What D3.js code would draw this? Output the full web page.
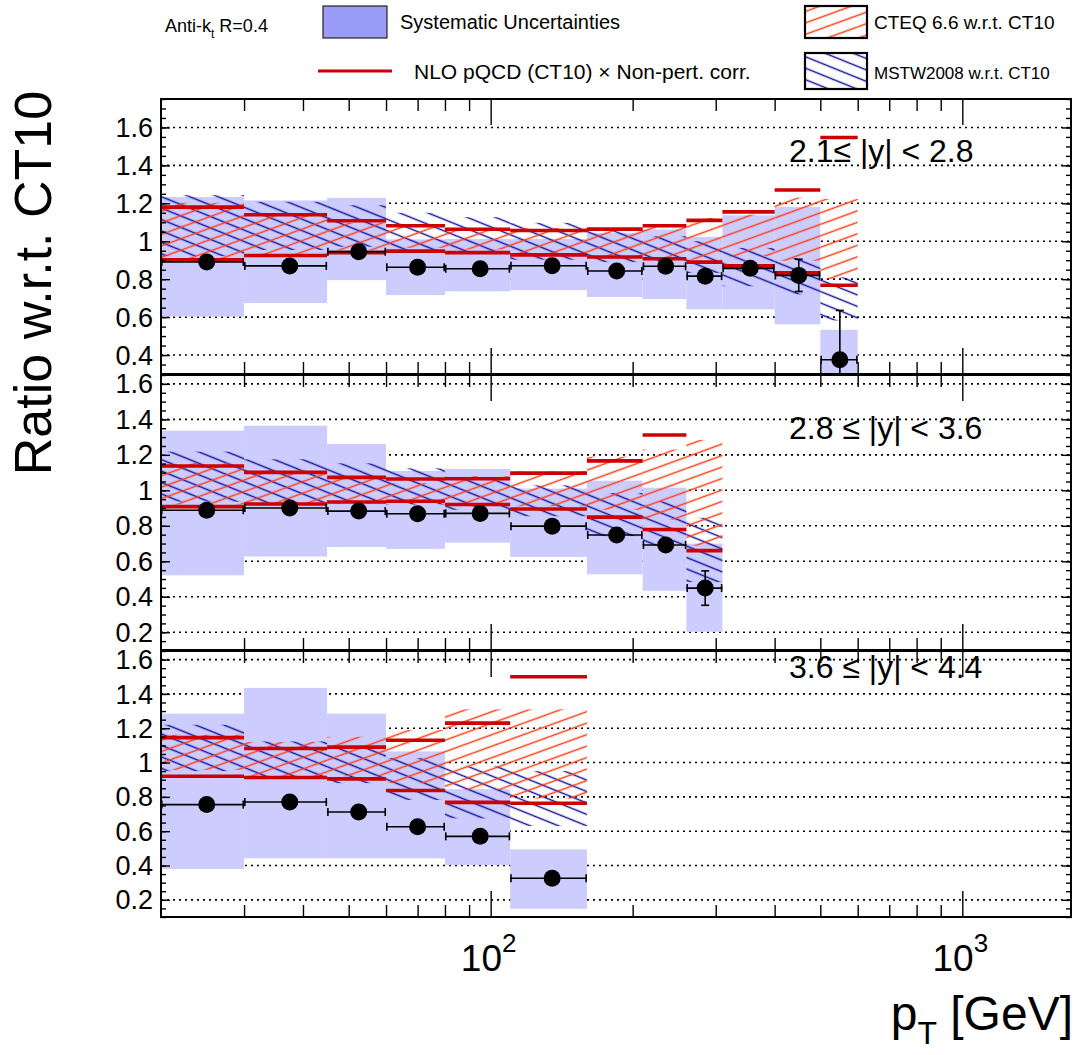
<!DOCTYPE html>
<html><head><meta charset="utf-8">
<script src="https://cdn.jsdelivr.net/npm/d3@7"></script>
<style>
body{margin:0;background:#fff}
svg{display:block}
text{font-family:"Liberation Sans",Arial,Helvetica,sans-serif;fill:#000}
</style>
</head><body>
<svg id="c" width="1079" height="1055"></svg>
<script>
// ---------------- DATA ----------------
const binEdges = [20, 30, 45, 60, 80, 110, 160, 210, 260, 310, 400, 500, 600];
const panelLabels = ["2.1\u2264 |y| < 2.8", "2.8 \u2264 |y| < 3.6", "3.6 \u2264 |y| < 4.4"];
const yTicks1 = [0.4, 0.6, 0.8, 1, 1.2, 1.4, 1.6];
const yTicks2 = [0.2, 0.4, 0.6, 0.8, 1, 1.2, 1.4, 1.6];
const yTicks3 = [0.2, 0.4, 0.6, 0.8, 1, 1.2, 1.4, 1.6];
const xMajorTicks = [100, 1000];
const xMajorLabels = ["2", "3"];
const xMinorTicks = [30, 40, 50, 60, 70, 80, 90, 200, 300, 400, 500, 600, 700, 800, 900];

// 2.1 <= |y| < 2.8
const data1   = [0.891, 0.870, 0.945, 0.863, 0.855, 0.871, 0.843, 0.868, 0.816, 0.857, 0.820, 0.375];
const stat1   = [0.004, 0.004, 0.005, 0.006, 0.007, 0.008, 0.010, 0.012, 0.015, 0.020, 0.085, 0.260];
const sysLo1  = [0.603, 0.674, 0.795, 0.716, 0.736, 0.742, 0.706, 0.695, 0.641, 0.641, 0.562, 0.100];
const sysHi1  = [1.233, 1.215, 1.229, 1.010, 1.012, 1.012, 1.044, 1.062, 1.023, 1.137, 1.181, 0.533];
const ct10Lo1 = [0.902, 0.925, 0.940, 0.948, 0.940, 0.928, 0.917, 0.908, 0.890, 0.870, 0.833, 0.768];
const ct10Hi1 = [1.180, 1.140, 1.108, 1.082, 1.063, 1.057, 1.064, 1.082, 1.110, 1.155, 1.270, 1.547];
const cteqLo1 = [0.906, 0.927, 0.954, 0.965, 0.956, 0.930, 0.920, 0.903, 0.903, 0.920, 0.897, 0.800];
const cteqHi1 = [1.203, 1.142, 1.097, 1.077, 1.060, 1.070, 1.060, 1.075, 1.123, 1.140, 1.230, 1.223];
const mstwLo1 = [0.922, 0.954, 0.971, 0.945, 0.938, 0.903, 0.890, 0.877, 0.833, 0.763, 0.720, 0.582];
const mstwHi1 = [1.243, 1.208, 1.190, 1.150, 1.127, 1.097, 1.060, 1.026, 1.000, 0.965, 0.912, 0.809];

// 2.8 <= |y| < 3.6
const data2   = [0.888, 0.900, 0.883, 0.868, 0.870, 0.798, 0.748, 0.692, 0.449];
const stat2   = [0.005, 0.006, 0.007, 0.008, 0.010, 0.012, 0.015, 0.020, 0.097];
const sysLo2  = [0.521, 0.627, 0.681, 0.670, 0.705, 0.625, 0.527, 0.434, 0.203];
const sysHi2  = [1.336, 1.364, 1.261, 1.109, 1.121, 1.010, 1.054, 1.015, 0.700];
const ct10Lo2 = [0.908, 0.923, 0.934, 0.938, 0.920, 0.895, 0.849, 0.779, 0.660];
const ct10Hi2 = [1.137, 1.101, 1.073, 1.064, 1.065, 1.097, 1.166, 1.312, null];
const cteqLo2 = [0.920, 0.925, 0.925, 0.930, 0.920, 0.910, 0.890, 0.835, 0.688];
const cteqHi2 = [1.154, 1.115, 1.070, 1.040, 1.080, 1.107, 1.190, 1.230, 1.284];
const mstwLo2 = [0.936, 0.930, 0.930, 0.920, 0.890, 0.854, 0.742, 0.686, 0.483];
const mstwHi2 = [1.218, 1.175, 1.152, 1.124, 1.070, 1.028, 0.985, 0.938, 0.845];

// 3.6 <= |y| < 4.4
const data3   = [0.755, 0.770, 0.712, 0.626, 0.570, 0.326];
const stat3   = [0.006, 0.007, 0.008, 0.010, 0.012, 0.020];
const sysLo3  = [0.380, 0.442, 0.442, 0.442, 0.403, 0.148];
const sysHi3  = [1.285, 1.435, 1.285, 1.065, 0.845, 0.494];
const ct10Lo3 = [0.920, 0.913, 0.905, 0.837, 0.768, 0.763];
const ct10Hi3 = [1.145, 1.082, 1.090, 1.130, 1.230, 1.500];
const cteqLo3 = [0.957, 0.920, 0.920, 0.880, 0.840, 0.790];
const cteqHi3 = [1.162, 1.120, 1.150, 1.190, 1.310, 1.310];
const mstwLo3 = [0.950, 0.909, 0.880, 0.782, 0.675, 0.630];
const mstwHi3 = [1.220, 1.123, 1.090, 1.026, 0.977, 0.950];

// ---------------- LAYOUT ----------------
const X0 = 161, X1 = 1071;
const C_SYS = "#ccccff", C_SYS_LEG = "#9b9bf8", C_RED = "#cc0000", C_CTEQ = "#ff3c14", C_MSTW = "#10109a";

const panels = [
  {top: 99,  bottom: 374, dom: [0.3, 1.75], ticks: yTicks1, label: panelLabels[0], labelY: 162,
   data: data1, stat: stat1, sysLo: sysLo1, sysHi: sysHi1, ct10Lo: ct10Lo1, ct10Hi: ct10Hi1, cteqLo: cteqLo1, cteqHi: cteqHi1, mstwLo: mstwLo1, mstwHi: mstwHi1},
  {top: 375, bottom: 650, dom: [0.1, 1.65], ticks: yTicks2, label: panelLabels[1], labelY: 439,
   data: data2, stat: stat2, sysLo: sysLo2, sysHi: sysHi2, ct10Lo: ct10Lo2, ct10Hi: ct10Hi2, cteqLo: cteqLo2, cteqHi: cteqHi2, mstwLo: mstwLo2, mstwHi: mstwHi2},
  {top: 651, bottom: 917, dom: [0.1, 1.65], ticks: yTicks3, label: panelLabels[2], labelY: 678,
   data: data3, stat: stat3, sysLo: sysLo3, sysHi: sysHi3, ct10Lo: ct10Lo3, ct10Hi: ct10Hi3, cteqLo: cteqLo3, cteqHi: cteqHi3, mstwLo: mstwLo3, mstwHi: mstwHi3}
];

const svg = d3.select("#c");
const defs = svg.append("defs");

function hatch(id, color, angle, spacing) {
  const pat = defs.append("pattern").attr("id", id)
    .attr("patternUnits", "userSpaceOnUse")
    .attr("width", 60).attr("height", spacing)
    .attr("patternTransform", `rotate(${angle})`);
  pat.append("line").attr("x1", 0).attr("x2", 60)
    .attr("y1", spacing / 2).attr("y2", spacing / 2)
    .attr("stroke", color).attr("stroke-width", 1.4);
}
hatch("hCteq", C_CTEQ, -20, 10.8);
hatch("hMstw", C_MSTW, 22, 10.6);

const x = d3.scaleLog().domain([20, 1700]).range([X0, X1]);

panels.forEach((p, pi) => {
  const y = d3.scaleLinear().domain(p.dom).range([p.bottom, p.top]);
  const clipId = "clip" + pi;
  defs.append("clipPath").attr("id", clipId).append("rect")
    .attr("x", X0).attr("y", p.top).attr("width", X1 - X0).attr("height", p.bottom - p.top);

  const g = svg.append("g");
  const body = g.append("g").attr("clip-path", `url(#${clipId})`);

  // grid
  body.selectAll("line.grid").data(p.ticks).join("line")
    .attr("x1", X0).attr("x2", X1)
    .attr("y1", d => y(d)).attr("y2", d => y(d))
    .attr("stroke", "#000").attr("stroke-width", 1.6).attr("stroke-dasharray", "2,4");

  const bins = p.data.map((v, i) => ({
    lo: binEdges[i], hi: binEdges[i + 1], v, s: p.stat[i],
    sysLo: p.sysLo[i], sysHi: p.sysHi[i],
    ct10Lo: p.ct10Lo[i], ct10Hi: p.ct10Hi[i],
    cteqLo: p.cteqLo[i], cteqHi: p.cteqHi[i],
    mstwLo: p.mstwLo[i], mstwHi: p.mstwHi[i]
  }));

  // systematic band
  body.selectAll("rect.sys").data(bins).join("rect")
    .attr("x", d => x(d.lo)).attr("width", d => x(d.hi) - x(d.lo))
    .attr("y", d => y(d.sysHi)).attr("height", d => y(d.sysLo) - y(d.sysHi))
    .attr("fill", C_SYS);

  // MSTW hatch
  body.selectAll("rect.mstw").data(bins).join("rect")
    .attr("x", d => x(d.lo)).attr("width", d => x(d.hi) - x(d.lo))
    .attr("y", d => y(d.mstwHi)).attr("height", d => y(d.mstwLo) - y(d.mstwHi))
    .attr("fill", "url(#hMstw)");

  // CTEQ hatch
  body.selectAll("rect.cteq").data(bins).join("rect")
    .attr("x", d => x(d.lo)).attr("width", d => x(d.hi) - x(d.lo))
    .attr("y", d => y(d.cteqHi)).attr("height", d => y(d.cteqLo) - y(d.cteqHi))
    .attr("fill", "url(#hCteq)");

  // CT10 theory band edges (red)
  const redLines = [];
  bins.forEach(d => {
    if (d.ct10Hi != null) redLines.push({lo: d.lo, hi: d.hi, v: d.ct10Hi});
    if (d.ct10Lo != null) redLines.push({lo: d.lo, hi: d.hi, v: d.ct10Lo});
  });
  body.selectAll("line.red").data(redLines).join("line")
    .attr("x1", d => x(d.lo)).attr("x2", d => x(d.hi))
    .attr("y1", d => y(d.v)).attr("y2", d => y(d.v))
    .attr("stroke", C_RED).attr("stroke-width", 3.6);

  // data: horizontal bars
  const dg = body.append("g").attr("stroke", "#000").attr("stroke-width", 1.6);
  dg.selectAll("line.hbar").data(bins).join("line")
    .attr("x1", d => x(d.lo)).attr("x2", d => x(d.hi))
    .attr("y1", d => y(d.v)).attr("y2", d => y(d.v));
  dg.selectAll("line.capL").data(bins).join("line")
    .attr("x1", d => x(d.lo) + 0.8).attr("x2", d => x(d.lo) + 0.8)
    .attr("y1", d => y(d.v) - 4).attr("y2", d => y(d.v) + 4);
  dg.selectAll("line.capR").data(bins).join("line")
    .attr("x1", d => x(d.hi) - 0.8).attr("x2", d => x(d.hi) - 0.8)
    .attr("y1", d => y(d.v) - 4).attr("y2", d => y(d.v) + 4);
  // vertical stat errors
  const cx = d => x((d.lo + d.hi) / 2);
  dg.selectAll("line.vbar").data(bins).join("line")
    .attr("x1", cx).attr("x2", cx)
    .attr("y1", d => y(d.v + d.s)).attr("y2", d => y(d.v - d.s));
  dg.selectAll("line.capT").data(bins).join("line")
    .attr("x1", d => cx(d) - 4).attr("x2", d => cx(d) + 4)
    .attr("y1", d => y(d.v + d.s)).attr("y2", d => y(d.v + d.s));
  dg.selectAll("line.capB").data(bins).join("line")
    .attr("x1", d => cx(d) - 4).attr("x2", d => cx(d) + 4)
    .attr("y1", d => y(d.v - d.s)).attr("y2", d => y(d.v - d.s));
  body.selectAll("circle.pt").data(bins).join("circle")
    .attr("cx", cx).attr("cy", d => y(d.v)).attr("r", 8.5).attr("fill", "#000");

  // panel label
  g.append("text").attr("x", 789).attr("y", p.labelY)
    .attr("font-size", 32).text(p.label);

  // axes (ticks)
  const minorY = d3.range(Math.ceil(p.dom[0] / 0.05) * 0.05, p.dom[1] + 1e-9, 0.05);
  const styleAxis = sel => { sel.select(".domain").remove(); sel.selectAll("line").attr("stroke", "#000").attr("stroke-width", 1.4); };
  g.append("g").attr("transform", `translate(${X0},0)`)
    .call(d3.axisRight(y).tickValues(minorY).tickSize(5).tickFormat(""))
    .call(styleAxis);
  g.append("g").attr("transform", `translate(${X0},0)`)
    .call(d3.axisRight(y).tickValues(p.ticks).tickSize(9).tickFormat(""))
    .call(styleAxis);
  g.append("g").attr("transform", `translate(${X1},0)`)
    .call(d3.axisLeft(y).tickValues(minorY).tickSize(5).tickFormat(""))
    .call(styleAxis);
  g.append("g").attr("transform", `translate(${X1},0)`)
    .call(d3.axisLeft(y).tickValues(p.ticks).tickSize(9).tickFormat(""))
    .call(styleAxis);
  // y tick labels
  g.selectAll("text.ylab").data(p.ticks).join("text")
    .attr("x", 153).attr("y", d => y(d) + 9.6)
    .attr("text-anchor", "end").attr("font-size", 27)
    .text(d => String(d));

  // x ticks top/bottom of panel
  g.append("g").attr("transform", `translate(0,${p.top})`)
    .call(d3.axisBottom(x).tickValues(xMinorTicks).tickSize(12).tickFormat(""))
    .call(styleAxis);
  g.append("g").attr("transform", `translate(0,${p.top})`)
    .call(d3.axisBottom(x).tickValues(xMajorTicks).tickSize(26).tickFormat(""))
    .call(styleAxis);
  g.append("g").attr("transform", `translate(0,${p.bottom})`)
    .call(d3.axisTop(x).tickValues(xMinorTicks).tickSize(12).tickFormat(""))
    .call(styleAxis);
  g.append("g").attr("transform", `translate(0,${p.bottom})`)
    .call(d3.axisTop(x).tickValues(xMajorTicks).tickSize(26).tickFormat(""))
    .call(styleAxis);

  // frame
  g.append("rect").attr("x", X0).attr("y", p.top).attr("width", X1 - X0).attr("height", p.bottom - p.top)
    .attr("fill", "none").attr("stroke", "#000").attr("stroke-width", 2);
});

// x axis labels (10^2, 10^3)
const xl = svg.append("g");
xMajorTicks.forEach((t, i) => {
  const tx = xl.append("text").attr("x", x(t) - 2).attr("y", 971)
    .attr("text-anchor", "middle").attr("font-size", 37);
  tx.append("tspan").text("10");
  tx.append("tspan").attr("dy", -19).attr("font-size", 26).text(xMajorLabels[i]);
});

// axis titles
const xt = svg.append("text").attr("x", 1073).attr("y", 1030).attr("text-anchor", "end").attr("font-size", 48);
xt.append("tspan").text("p");
xt.append("tspan").attr("dy", 14).attr("font-size", 32).text("T");
xt.append("tspan").attr("dy", -14).text(" [GeV]");

svg.append("text").attr("transform", "translate(51,283) rotate(-90)")
  .attr("text-anchor", "middle").attr("font-size", 52).text("Ratio w.r.t. CT10");

// legend
const lg = svg.append("g");
const ak = lg.append("text").attr("x", 165).attr("y", 32).attr("font-size", 18);
ak.append("tspan").text("Anti-k");
ak.append("tspan").attr("dy", 6).attr("font-size", 12).text("t");
ak.append("tspan").attr("dy", -6).text(" R=0.4");

lg.append("rect").attr("x", 323).attr("y", 6).attr("width", 64).attr("height", 32)
  .attr("fill", C_SYS_LEG).attr("stroke", "#222").attr("stroke-width", 1.2);
lg.append("text").attr("x", 400).attr("y", 29).attr("font-size", 20).text("Systematic Uncertainties");

lg.append("line").attr("x1", 318).attr("x2", 392).attr("y1", 71).attr("y2", 71)
  .attr("stroke", C_RED).attr("stroke-width", 3.2);
lg.append("text").attr("x", 414).attr("y", 79).attr("font-size", 21).text("NLO pQCD (CT10) \u00d7 Non-pert. corr.");

lg.append("rect").attr("x", 805).attr("y", 6).attr("width", 62).attr("height", 32)
  .attr("fill", "url(#hCteq)").attr("stroke", "#000").attr("stroke-width", 2.2);
lg.append("text").attr("x", 874).attr("y", 29).attr("font-size", 19).text("CTEQ 6.6 w.r.t. CT10");

lg.append("rect").attr("x", 805).attr("y", 53).attr("width", 62).attr("height", 36)
  .attr("fill", "url(#hMstw)").attr("stroke", "#000").attr("stroke-width", 2.2);
lg.append("text").attr("x", 874).attr("y", 79).attr("font-size", 17).text("MSTW2008 w.r.t. CT10");
</script>
</body></html>
